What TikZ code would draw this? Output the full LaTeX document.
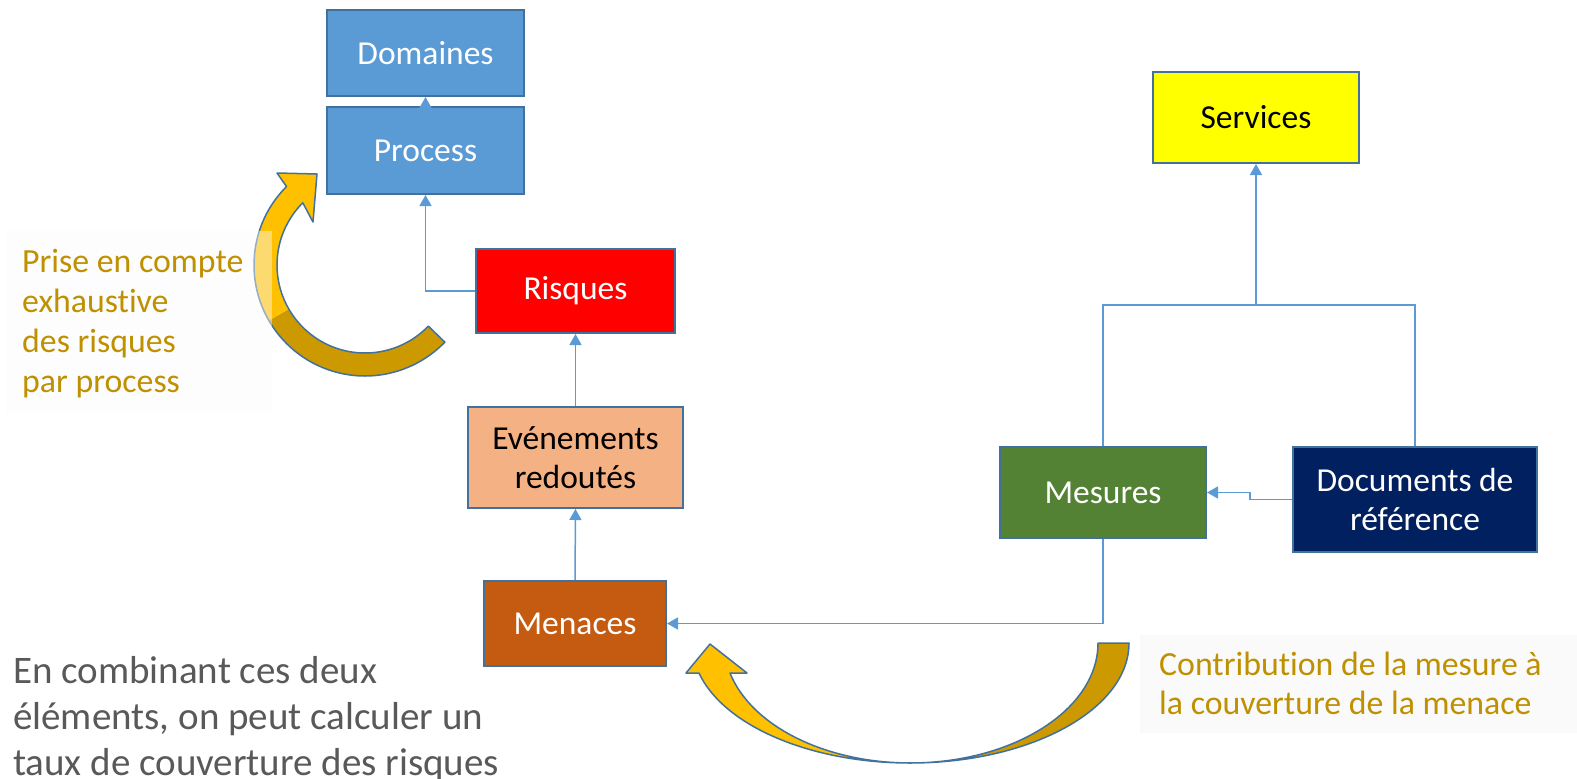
\documentclass[tikz,border=0pt]{standalone}
\usepackage{fontspec}
\setmainfont[Ligatures=NoCommon]{Carlito}
\usetikzlibrary{arrows.meta,calc}
\definecolor{bluefill}{HTML}{5B9BD5}
\definecolor{boxline}{HTML}{41719C}
\definecolor{connc}{HTML}{5B9BD5}
\definecolor{goldtext}{HTML}{BF9000}
\definecolor{graytext}{HTML}{595959}
\definecolor{arrlight}{HTML}{FFC000}
\definecolor{arrdark}{HTML}{CC9900}
\definecolor{risred}{HTML}{FF0000}
\definecolor{evtfill}{HTML}{F4B183}
\definecolor{menfill}{HTML}{C55A11}
\definecolor{srvfill}{HTML}{FFFF00}
\definecolor{mesfill}{HTML}{548235}
\definecolor{docfill}{HTML}{002060}
\definecolor{faintbg}{HTML}{FAFAFA}
\begin{document}
\begin{tikzpicture}[x=1pt,y=-1pt,
  box/.style={draw=boxline,line width=2pt,inner sep=0pt,align=center,
    font=\fontsize{33.5}{39}\selectfont},
  conn/.style={draw=connc,line width=1.5pt,-{Triangle[length=11pt,width=12pt]}},
  plainline/.style={draw=connc,line width=1.5pt},
  bigarrow/.style={draw=boxline,line width=1.5pt,line join=round},
  sidetext/.style={inner sep=0pt,align=left,text=goldtext,
    font=\fontsize{33.8}{40}\selectfont},
]
\useasboundingbox (0,0) rectangle (1577,779);

% boxes
\node[box,fill=bluefill,text=white,minimum width=197pt,minimum height=86pt] (dom) at (425.5,53) {Domaines};
\node[box,fill=bluefill,text=white,minimum width=197pt,minimum height=87pt] (proc) at (425.5,150.5) {Process};
\node[box,fill=risred,text=white,minimum width=199pt,minimum height=84pt] (ris) at (575.5,291) {Risques};
\node[box,fill=evtfill,text=black,minimum width=215pt,minimum height=101pt] (evt) at (575.5,457.5) {Evénements\\redoutés};
\node[box,fill=menfill,text=white,minimum width=182pt,minimum height=85pt] (men) at (575,623.5) {Menaces};
\node[box,fill=srvfill,text=black,minimum width=206pt,minimum height=91pt] (srv) at (1256,117.5) {Services};
\node[box,fill=mesfill,text=white,minimum width=206pt,minimum height=91pt] (mes) at (1103,492.5) {Mesures};
\node[box,fill=docfill,text=white,minimum width=244pt,minimum height=105pt] (doc) at (1415,499.5) {Documents de\\référence};

% connectors
\draw[conn] (proc.north) -- (dom.south);
\draw[conn] (ris.west) -| (proc.south);
\draw[conn] (evt.north) -- (ris.south);
\draw[conn] (men.north) -- (evt.south);
\draw[conn] (mes.south) |- (men.east);
\coordinate (j) at (1256,305);
\draw[plainline] (doc.north) |- (j);
\draw[conn] (mes.north) |- (j) -- (srv.south);
\coordinate (k) at (1250,499.5);
\draw[conn] (doc.west) -- (k) |- (mes.east);

% left curved arrow (centre 365,265)
\coordinate (c1) at (365,265);
\fill[arrdark] ($(c1)+(44:88)$) arc[start angle=44,end angle=150,radius=88]
  -- ($(c1)+(150:111)$) arc[start angle=150,end angle=44,radius=111] -- cycle;
\fill[arrlight] ($(c1)+(150:88)$) arc[start angle=150,end angle=225,radius=88]
  -- (313,222) -- (317,174) -- (277,173) -- ($(c1)+(225:111)$)
  arc[start angle=225,end angle=150,radius=111] -- cycle;
\draw[bigarrow] ($(c1)+(44:88)$) arc[start angle=44,end angle=225,radius=88]
  -- (313,222) -- (317,174) -- (277,173) -- ($(c1)+(225:111)$)
  arc[start angle=225,end angle=44,radius=111] -- cycle;

% left text block
\fill[faintbg,fill opacity=0.45] (6,231) rectangle (272,413);
\node[sidetext,anchor=base west] (t1) at (22,392) {Prise en compte\\exhaustive\\des risques\\par process};

% bottom curved arrow (centre 910,643)
\fill[arrdark] (1098,643) -- (1129,643)
  arc[start angle=0,end angle=90,x radius=219,y radius=120]
  arc[start angle=90,end angle=0,x radius=188,y radius=120] -- cycle;
\draw[bigarrow] (1098,643) -- (1129,643)
  arc[start angle=0,end angle=90,x radius=219,y radius=120]
  arc[start angle=90,end angle=0,x radius=188,y radius=120] -- cycle;
\fill[arrlight] (910,763)
  arc[start angle=90,end angle=165.5,x radius=218,y radius=120]
  -- (686,673) -- (710,644) -- (747,673) -- (730,673)
  arc[start angle=165.5,end angle=90,x radius=186,y radius=120] -- cycle;
\draw[bigarrow] (910,763)
  arc[start angle=90,end angle=165.5,x radius=218,y radius=120]
  -- (686,673) -- (710,644) -- (747,673) -- (730,673)
  arc[start angle=165.5,end angle=90,x radius=186,y radius=120] -- cycle;

% right text block
\fill[faintbg] (1140,635) rectangle (1577,733);
\node[sidetext,anchor=base west,font=\fontsize{33.8}{39}\selectfont] (t2) at (1159,714) {Contribution de la mesure à\\la couverture de la menace};

% bottom-left text
\node[inner sep=0pt,align=left,text=graytext,anchor=base west,
  font=\fontsize{39}{46}\selectfont] (t3) at (13,775)
  {En combinant ces deux\\éléments, on peut calculer un\\taux de couverture des risques};
\end{tikzpicture}
\end{document}
